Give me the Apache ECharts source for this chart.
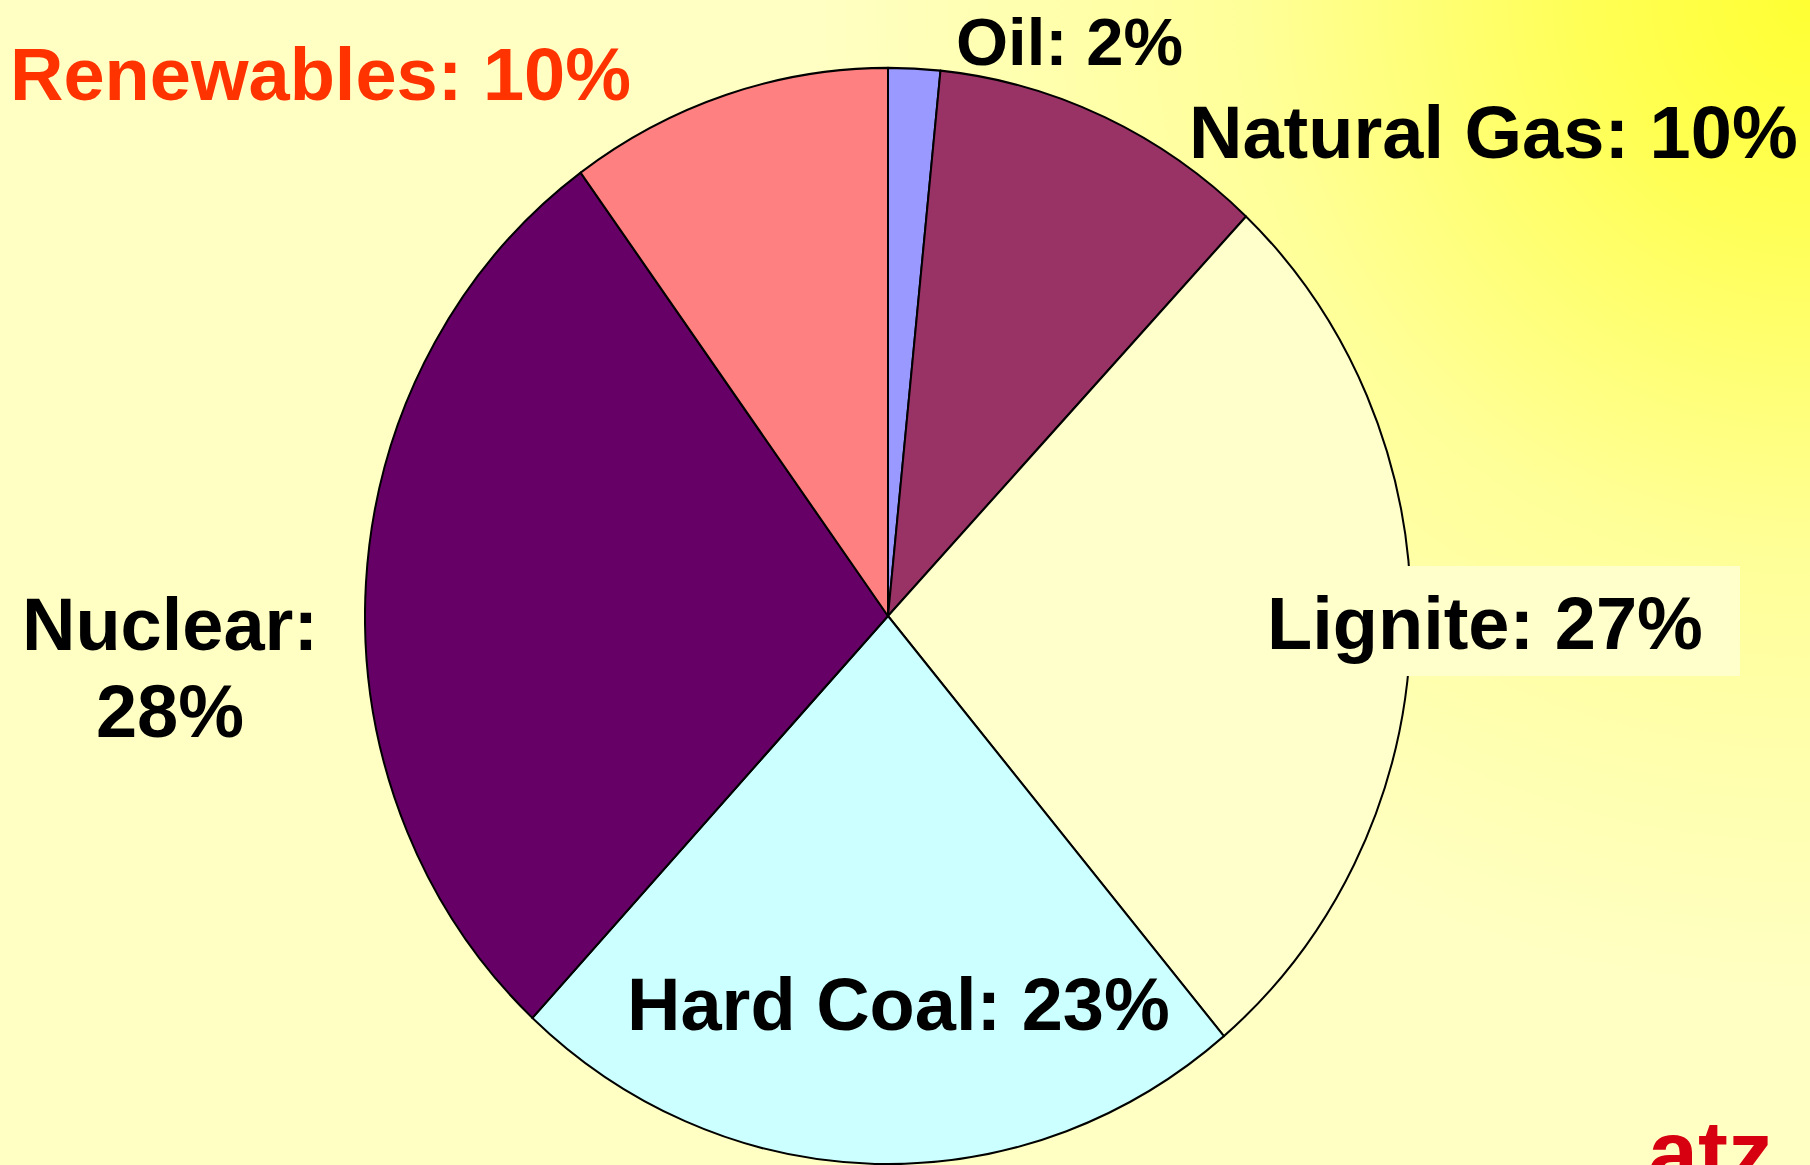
<!DOCTYPE html>
<html>
<head>
<meta charset="utf-8">
<title>Electricity generation mix</title>
<script src="https://cdn.jsdelivr.net/npm/echarts@6/dist/echarts.min.js"></script>
<style>
  html, body { margin: 0; padding: 0; }
  body {
    width: 1810px; height: 1165px; overflow: hidden; position: relative;
    background: radial-gradient(circle at 100% 0%, #ffff33 0px, #ffff55 220px, #ffff99 560px, #ffffc4 1000px);
  }
  #pie, #labels { position: absolute; left: 0; top: 0; width: 1810px; height: 1165px; }
  /* the original pie is a slightly tall ellipse */
  #pie { transform: scaleY(1.048); transform-origin: 0 616px; }
</style>
</head>
<body>
<div id="pie"></div>
<div id="labels"></div>
<script>
var sources = ['Oil', 'Natural Gas', 'Lignite', 'Hard Coal', 'Nuclear', 'Renewables'];
var shares = [1.6, 10.4, 26.9, 23.0, 28.1, 10.0];
var colors = ['#9999ff', '#993366', '#ffffcc', '#ccffff', '#660066', '#ff8080'];

function labelText(i) {
  return sources[i] + ': ' + Math.round(shares[i]) + '%';
}

var pieChart = echarts.init(document.getElementById('pie'), null, { renderer: 'svg' });
pieChart.setOption({
  animation: false,
  series: [{
    type: 'pie',
    center: [888, 616],
    radius: 523,
    startAngle: 90,
    clockwise: true,
    silent: true,
    label: { show: false },
    labelLine: { show: false },
    itemStyle: { borderColor: '#000', borderWidth: 2 },
    data: sources.map(function (name, i) {
      return { name: name, value: shares[i], itemStyle: { color: colors[i] } };
    })
  }]
});

// labels sit on their own layer so the text is not stretched with the pie
var font = 'bold 74px "Liberation Sans", Arial, sans-serif';
var labelChart = echarts.init(document.getElementById('labels'), null, { renderer: 'svg' });
labelChart.setOption({
  animation: false,
  graphic: [
    { type: 'text', x: 956, y: 41, style: { text: labelText(0), font: 'bold 67px "Liberation Sans", Arial, sans-serif', fill: '#000', textAlign: 'left', textVerticalAlign: 'middle' } },
    { type: 'text', x: 1189, y: 132, style: { text: labelText(1), font: font, fill: '#000', textAlign: 'left', textVerticalAlign: 'middle' } },
    { type: 'rect', shape: { x: 1258, y: 566, width: 482, height: 110 }, style: { fill: '#ffffcc' } },
    { type: 'text', x: 1267, y: 623, style: { text: labelText(2), font: font, fill: '#000', textAlign: 'left', textVerticalAlign: 'middle' } },
    { type: 'text', x: 627, y: 1004, style: { text: labelText(3), font: font, fill: '#000', textAlign: 'left', textVerticalAlign: 'middle' } },
    { type: 'text', x: 170, y: 668, style: { text: sources[4] + ':\n' + Math.round(shares[4]) + '%', font: font, lineHeight: 87, fill: '#000', textAlign: 'center', textVerticalAlign: 'middle' } },
    { type: 'text', x: 10, y: 74, style: { text: labelText(5), font: font, fill: '#ff3300', textAlign: 'left', textVerticalAlign: 'middle' } },
    { type: 'text', x: 1648, y: 1153, style: { text: 'atz', font: 'bold 90px "Liberation Sans", Arial, sans-serif', fill: '#d70010', textAlign: 'left', textVerticalAlign: 'middle' } }
  ]
});
</script>
</body>
</html>
